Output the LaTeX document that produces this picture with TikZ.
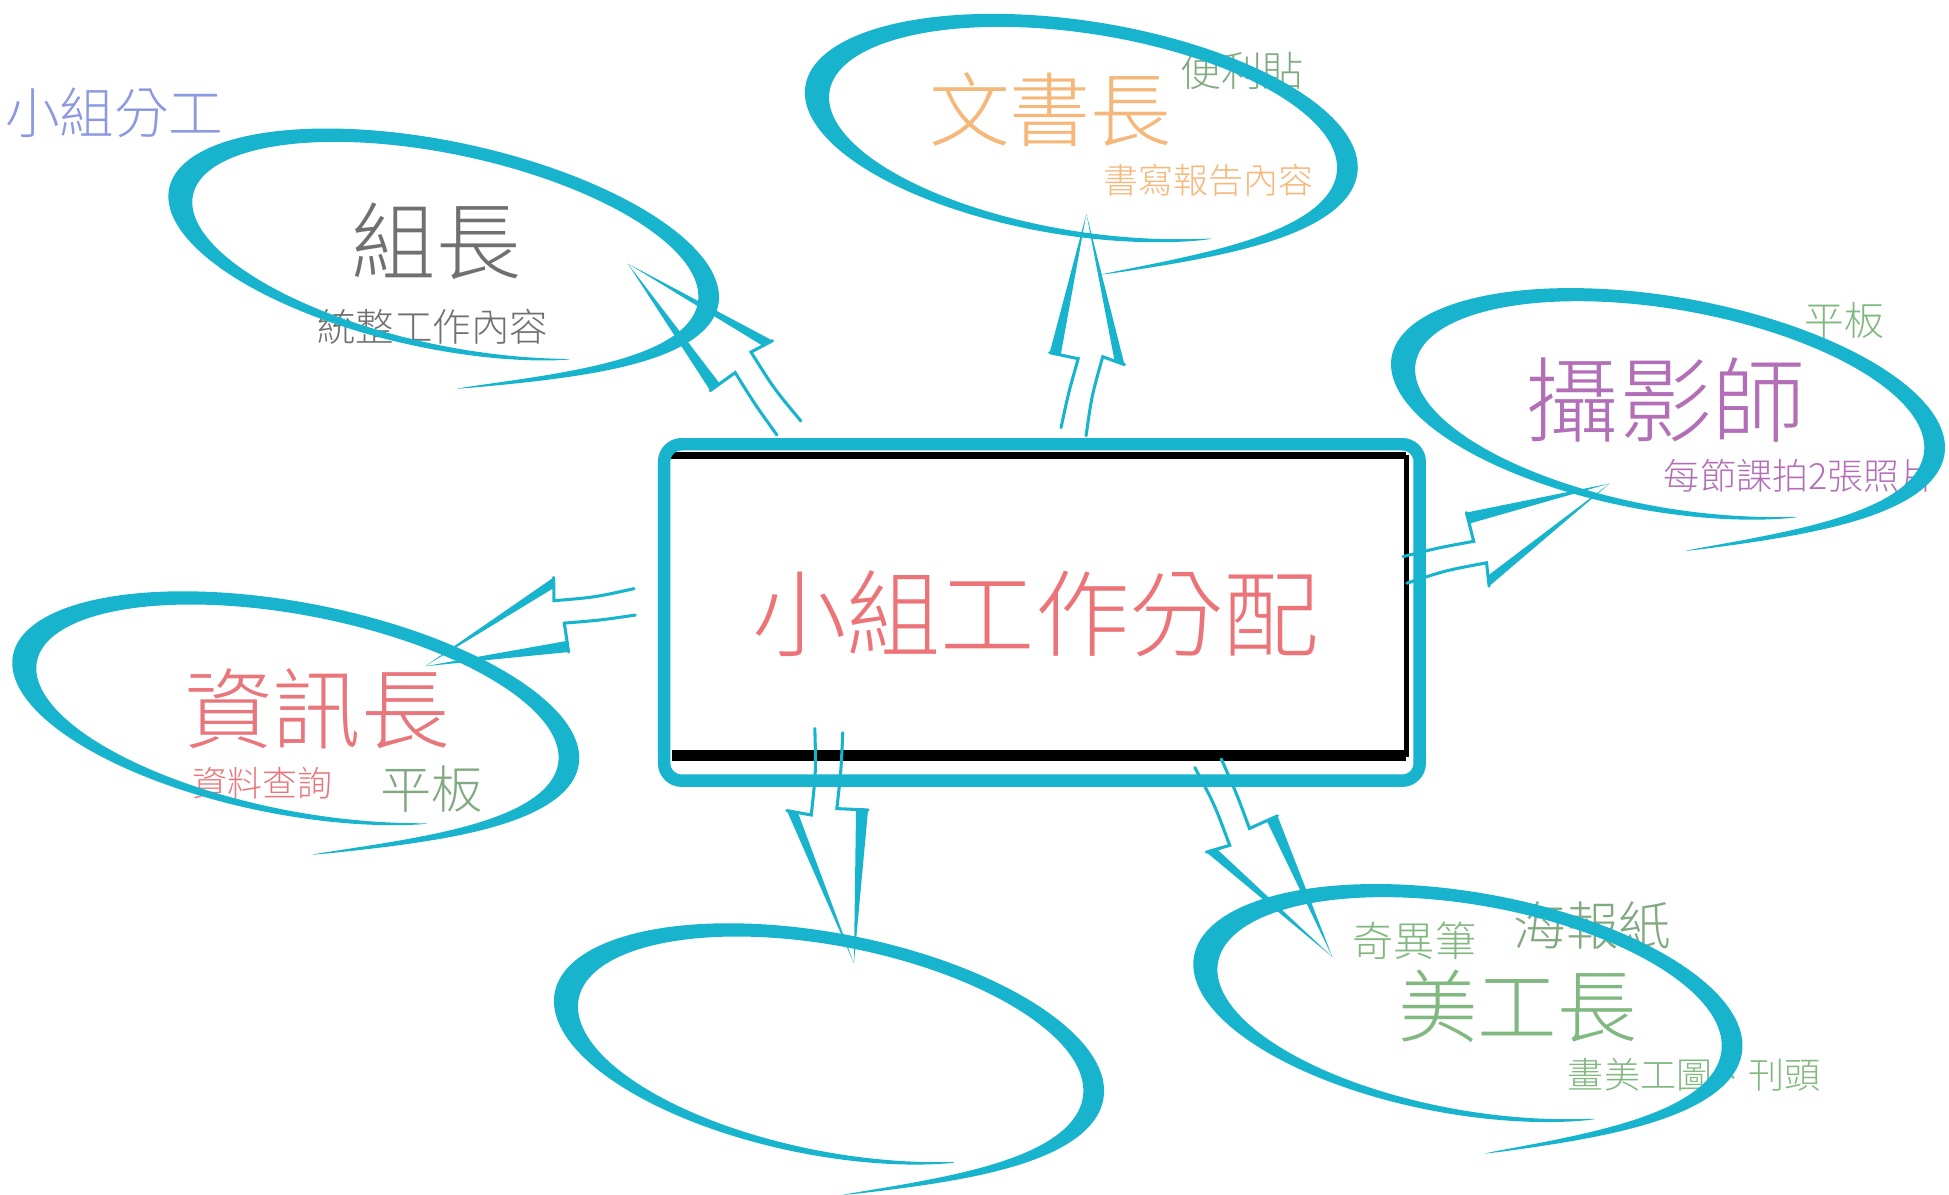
\documentclass[tikz,border=0pt]{standalone}
\usepackage{fontspec}
\IfFontExistsTF{Noto Sans CJK TC Light}{\setmainfont{Noto Sans CJK TC Light}}{\setmainfont{Noto Sans CJK TC}}
\usetikzlibrary{calc}
\definecolor{sw}{RGB}{24,180,205}
\definecolor{hdrc}{RGB}{140,152,224}
\definecolor{grayc}{RGB}{112,112,112}
\definecolor{orc}{RGB}{245,183,122}
\definecolor{grc}{RGB}{128,184,128}
\definecolor{grd}{RGB}{130,170,130}
\definecolor{puc}{RGB}{178,110,182}
\definecolor{rdc}{RGB}{232,118,124}
\definecolor{ttl}{RGB}{236,116,121}
\newcommand\bx[2]{\x1+(#1)*(\x2-\x1)-(#2)*(\y2-\y1)}
\newcommand\by[2]{\y1+(#1)*(\y2-\y1)+(#2)*(\x2-\x1)}
\newcommand\bolt[2]{%
 \draw[boltline] let \p1=(#1), \p2=(#2) in
  ({\bx{0}{-0.055}},{\by{0}{-0.055}}) .. controls ({\bx{0.18}{-0.07}},{\by{0.18}{-0.07}}) .. ({\bx{0.36}{-0.11}},{\by{0.36}{-0.11}}) -- ({\bx{0.33}{-0.21}},{\by{0.33}{-0.21}})
  ({\bx{0.03}{0.06}},{\by{0.03}{0.06}}) .. controls ({\bx{0.19}{0.035}},{\by{0.19}{0.035}}) .. ({\bx{0.345}{0}},{\by{0.345}{0}}) -- ({\bx{0.365}{0.13}},{\by{0.365}{0.13}});
 \fill[boltfill] let \p1=(#1), \p2=(#2) in
  ({\bx{0.33}{-0.21}},{\by{0.33}{-0.21}}) -- ({\bx{0.342}{-0.165}},{\by{0.342}{-0.165}}) -- (#2) -- cycle
  ({\bx{0.365}{0.13}},{\by{0.365}{0.13}}) -- ({\bx{0.357}{0.08}},{\by{0.357}{0.08}}) -- (#2) -- cycle;
}
\newcommand\swoosh[5]{%
 \fill[swoosh] plot[variable=\vv, domain=0:1, samples=200]
  ({#1+(#3+ee(\vv)+11*pr(\vv))*cos(tt(\vv))*cos(#5)+(#4+ee(\vv)+5*pr(\vv))*sin(tt(\vv))*sin(#5)},
   {#2+(#3+ee(\vv)+11*pr(\vv))*cos(tt(\vv))*sin(#5)-(#4+ee(\vv)+5*pr(\vv))*sin(tt(\vv))*cos(#5)})
  -- plot[variable=\vv, domain=1:0, samples=200]
  ({#1+(#3+ee(\vv)-11*pr(\vv))*cos(tt(\vv))*cos(#5)+(#4+ee(\vv)-5*pr(\vv))*sin(tt(\vv))*sin(#5)},
   {#2+(#3+ee(\vv)-11*pr(\vv))*cos(tt(\vv))*sin(#5)-(#4+ee(\vv)-5*pr(\vv))*sin(tt(\vv))*cos(#5)})
  -- cycle;
}
\tikzset{
 lbl/.style={inner sep=0pt, anchor=center},
 boltline/.style={draw=sw, line width=0.7pt, line cap=round},
 boltfill/.style={fill=sw},
 swoosh/.style={fill=sw},
}
\begin{document}
\begin{tikzpicture}[x=0.01cm, y=-0.01cm,
 declare function={tt(\vv)=-82+385*\vv; ee(\vv)=30*exp(-\vv/0.07); pr(\vv)=(abs(sin(180*\vv))+0.001)^0.6;}]
\useasboundingbox (0,0) rectangle (1568,961);
\clip (0,0) rectangle (1568,961);

% texts
\node[lbl, text=hdrc, font=\fontsize{12.5pt}{15pt}\selectfont] (hdr) at (92,91) {小組分工};
\node[lbl, text=grayc, font=\fontsize{19.35pt}{23pt}\selectfont] (zz) at (351,194) {組長};
\node[lbl, text=grayc, font=\fontsize{8.8pt}{11pt}\selectfont] (zzd) at (348,263) {統整工作內容};
\node[lbl, text=orc, font=\fontsize{18.5pt}{22pt}\selectfont] (ws) at (845,88) {文書長};
\node[lbl, text=grd, font=\fontsize{9.4pt}{11pt}\selectfont] (wsa) at (999,57) {便利貼};
\node[lbl, text=orc, font=\fontsize{8pt}{10pt}\selectfont] (wsd) at (972,145) {書寫報告內容};
\node[lbl, text=puc, font=\fontsize{21.3pt}{25pt}\selectfont] (sy) at (1340,322) {攝影師};
\node[lbl, text=grc, font=\fontsize{9.1pt}{11pt}\selectfont] (sya) at (1484,258) {平板};
\node[inner sep=0pt, anchor=west, text=puc, font=\fontsize{8.25pt}{10pt}\selectfont] (syd) at (1338,383) {每節課拍2張照片};
\node[lbl, text=rdc, font=\fontsize{20.2pt}{24pt}\selectfont] (zx) at (255,570) {資訊長};
\node[lbl, text=rdc, font=\fontsize{8pt}{10pt}\selectfont] (zxd) at (211,630) {資料查詢};
\node[lbl, text=grd, font=\fontsize{11.7pt}{14pt}\selectfont] (zxa) at (347,635) {平板};
\node[lbl, text=grc, font=\fontsize{18.2pt}{22pt}\selectfont] (mg) at (1221,810) {美工長};
\node[lbl, text=grc, font=\fontsize{9.4pt}{11pt}\selectfont] (mga) at (1138,757) {奇異筆};
\node[lbl, text=grd, font=\fontsize{12pt}{14pt}\selectfont] (mgb) at (1281,745) {海報紙};
\node[lbl, text=grc, font=\fontsize{8.25pt}{10pt}\selectfont] (mgd) at (1363,865) {畫美工圖、刊頭};

% swoosh ellipses
\swoosh{357}{199}{216}{80}{12}
\swoosh{870}{105}{215}{83}{9}
\swoosh{1342}{327}{216}{83}{10}
\swoosh{238}{572}{222}{82}{11}
\swoosh{667}{842}{215}{86}{11}
\swoosh{1181}{809}{214}{86}{10}

% central box
\draw[black, line width=1.42pt] (536,366.5) -- (1131,366.5);
\draw[black, line width=2.6pt] (541,608) -- (1131,608);
\draw[black, line width=1pt] (1131.5,366) -- (1131.5,609);
\node[draw=sw, line width=2.85pt, rounded corners=0.14cm, minimum width=6.075cm, minimum height=2.705cm, inner sep=0pt] (main) at (838.25,492.75) {};
\node[lbl, text=ttl, font=\fontsize{21.6pt}{26pt}\selectfont] (title) at (833,494) {小組工作分配};

% arrows
\coordinate (a1s) at (637,346); \coordinate (a1e) at (505,212);
\coordinate (a2s) at (864,350); \coordinate (a2e) at (874,172);
\coordinate (a3s) at (1128,460); \coordinate (a3e) at (1295,389);
\coordinate (a4s) at (513,483); \coordinate (a4e) at (342,536);
\coordinate (a5s) at (666,585); \coordinate (a5e) at (687,775);
\coordinate (a6s) at (970,612); \coordinate (a6e) at (1072,770);
\bolt{a1s}{a1e}
\bolt{a2s}{a2e}
\bolt{a3s}{a3e}
\bolt{a4s}{a4e}
\bolt{a5s}{a5e}
\bolt{a6s}{a6e}
\end{tikzpicture}
\end{document}
